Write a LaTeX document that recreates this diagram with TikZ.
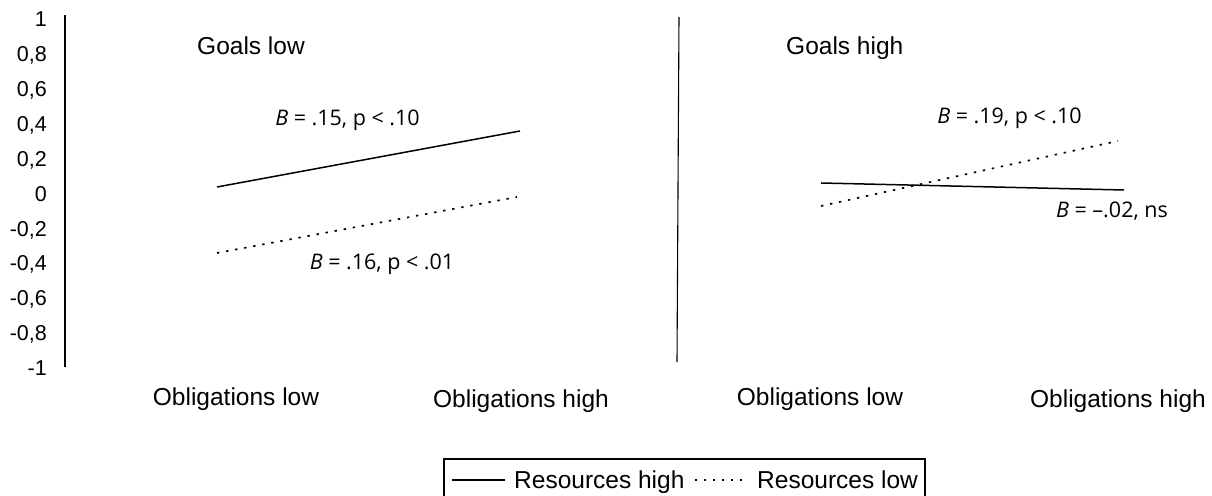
\documentclass[tikz,border=0pt]{standalone}
\usepackage{fontspec}
\setmainfont{Liberation Sans}
\newfontfamily\annfont{Open Sans}
\begin{document}
\begin{tikzpicture}[x=1bp,y=-1bp,
  lbl/.style={font=\fontsize{24.5bp}{29bp}\selectfont, inner sep=0pt, anchor=base},
  lblw/.style={lbl, anchor=base west},
  tick/.style={font=\fontsize{21.5bp}{26bp}\selectfont, inner sep=0pt, anchor=base east},
  ann/.style={font=\annfont\fontsize{21.5bp}{26bp}\selectfont, inner sep=0pt, anchor=base},
  axisln/.style={line width=1.1bp},
  solidln/.style={line width=1.5bp},
  dotln/.style={line width=1.7bp, dash pattern=on 2.4bp off 6.8bp},
]
\useasboundingbox (0,0) rectangle (1212,496);
% axes
\coordinate (a1t) at (65,15);
\coordinate (a1b) at (65,367);
\coordinate (a2t) at (679,17);
\coordinate (a2b) at (677,362);
\draw[axisln] (a1t) -- (a1b);
\draw[axisln] (a2t) -- (a2b);
% tick labels
\foreach \v [count=\i from 0] in {1,{0,8},{0,6},{0,4},{0,2},0,{-0,2},{-0,4},{-0,6},{-0,8},-1}
  \node[tick] (t\i) at (47,26.7+34.9*\i) {\v};
% panel titles
\node[lblw] (gl) at (197,55) {Goals low};
\node[lblw] (gh) at (786,55) {Goals high};
% x labels
\node[lbl] (x1) at (236,405.5) {Obligations low};
\node[lbl] (x2) at (521,407) {Obligations high};
\node[lbl] (x3) at (820,405.5) {Obligations low};
\node[lbl] (x4) at (1118,407) {Obligations high};
% left panel lines
\coordinate (l1s) at (217,187);
\coordinate (l1e) at (520,131);
\coordinate (l2s) at (217,253);
\coordinate (l2e) at (517,197);
\draw[solidln] (l1s) -- (l1e);
\draw[dotln] (l2s) -- (l2e);
\node[ann] (b1) at (347.5,126) {\textit{B} = .15, p < .10};
\node[ann] (b2) at (382,269.5) {\textit{B} = .16, p < .01};
% right panel lines
\coordinate (r1s) at (821,183);
\coordinate (r1e) at (1124,190);
\coordinate (r2s) at (821,206);
\coordinate (r2e) at (1118,141);
\draw[solidln] (r1s) -- (r1e);
\draw[dotln] (r2s) -- (r2e);
\node[ann] (b3) at (1009.5,124) {\textit{B} = .19, p < .10};
\node[ann] (b4) at (1112,218) {\textit{B} = \textendash.02, ns};
% legend
\coordinate (legNW) at (444,459);
\coordinate (legSE) at (925,500);
\draw[axisln] (legNW) rectangle (legSE);
\coordinate (lh1) at (452,480);
\coordinate (lh2) at (505,480);
\draw[solidln] (lh1) -- (lh2);
\node[lblw] (lht) at (514,488) {Resources high};
\coordinate (ll1) at (695,480);
\coordinate (ll2) at (745,480);
\draw[line width=1.3bp, dash pattern=on 1.6bp off 7.4bp] (ll1) -- (ll2);
\node[lblw] (llt) at (757,488) {Resources low};
\end{tikzpicture}
\end{document}
